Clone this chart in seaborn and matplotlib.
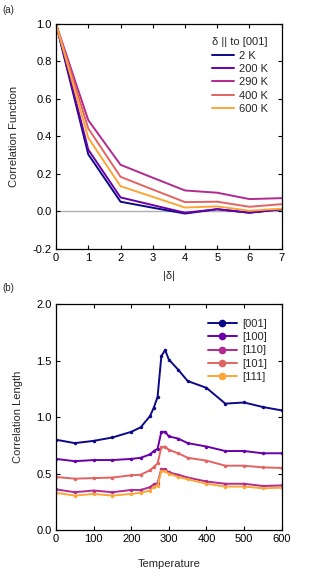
import numpy as np
import pandas as pd
import matplotlib
matplotlib.use("Agg")
import matplotlib.pyplot as plt
import seaborn as sns

# ---- Panel (a) data ----
delta = [0, 1, 2, 3, 4, 5, 6, 7]
temps_a = ["2 K", "200 K", "290 K", "400 K", "600 K"]
corr_2K = [1.0, 0.305, 0.052, 0.020, -0.011, 0.012, -0.007, 0.012]
corr_200K = [1.0, 0.330, 0.075, 0.034, -0.007, 0.012, -0.006, 0.012]
corr_290K = [1.0, 0.487, 0.249, 0.180, 0.112, 0.100, 0.066, 0.071]
corr_400K = [1.0, 0.443, 0.185, 0.117, 0.050, 0.052, 0.025, 0.039]
corr_600K = [1.0, 0.393, 0.135, 0.078, 0.021, 0.027, 0.004, 0.015]

# ---- Panel (b) data ----
temperature = [0, 50, 100, 150, 200, 225, 250, 260, 270, 280, 290, 300, 325, 350, 400, 450, 500, 550, 600]
dirs = ["[001]", "[100]", "[110]", "[101]", "[111]"]
len_001 = [0.80, 0.77, 0.79, 0.82, 0.87, 0.91, 1.01, 1.085, 1.18, 1.54, 1.595, 1.51, 1.42, 1.32, 1.26, 1.12, 1.13, 1.09, 1.06]
len_100 = [0.63, 0.61, 0.62, 0.62, 0.63, 0.64, 0.67, 0.70, 0.72, 0.87, 0.87, 0.83, 0.81, 0.77, 0.74, 0.70, 0.70, 0.68, 0.68]
len_110 = [0.36, 0.335, 0.35, 0.335, 0.355, 0.355, 0.38, 0.405, 0.415, 0.54, 0.54, 0.51, 0.49, 0.465, 0.43, 0.41, 0.41, 0.39, 0.395]
len_101 = [0.47, 0.455, 0.46, 0.465, 0.485, 0.49, 0.53, 0.56, 0.59, 0.735, 0.74, 0.71, 0.68, 0.64, 0.615, 0.57, 0.57, 0.555, 0.55]
len_111 = [0.33, 0.305, 0.32, 0.305, 0.32, 0.33, 0.35, 0.385, 0.39, 0.525, 0.52, 0.50, 0.47, 0.45, 0.41, 0.385, 0.385, 0.37, 0.375]

colors = ["#0d0887", "#6a00a8", "#b12a90", "#e16462", "#fca636"]

df_a = pd.DataFrame({
    "delta": delta * 5,
    "corr": corr_2K + corr_200K + corr_290K + corr_400K + corr_600K,
    "T": sum([[t] * len(delta) for t in temps_a], []),
})
df_b = pd.DataFrame({
    "T": temperature * 5,
    "L": len_001 + len_100 + len_110 + len_101 + len_111,
    "dir": sum([[d] * len(temperature) for d in dirs], []),
})

sns.set_theme(style="ticks")
plt.rcParams["font.family"] = ["Liberation Sans", "DejaVu Sans"]
FS = 8
plt.rcParams["font.size"] = FS

fig = plt.figure(figsize=(3.13, 5.79), dpi=100)
ax1 = fig.add_axes([0.179, 0.570, 0.721, 0.3886])
ax2 = fig.add_axes([0.179, 0.0846, 0.721, 0.3898])

# Panel a
ax1.axhline(0, color="#b0b0b0", lw=1.0, zorder=0)
sns.lineplot(data=df_a, x="delta", y="corr", hue="T", hue_order=temps_a,
             palette=colors, lw=1.4, ax=ax1)
ax1.set_xlim(0, 7)
ax1.set_ylim(-0.2, 1.0)
ax1.set_xticks(range(0, 8))
ax1.set_yticks([-0.2, 0.0, 0.2, 0.4, 0.6, 0.8, 1.0])
ax1.set_yticklabels(["-0.2", "0.0", "0.2", "0.4", "0.6", "0.8", "1.0"])
ax1.set_xlabel("|δ|", fontsize=FS, labelpad=6)
ax1.set_ylabel("Correlation Function", fontsize=FS, labelpad=10)
leg1 = ax1.legend(title="δ || to [001]", frameon=False, loc="upper right",
                  fontsize=FS, title_fontsize=FS, handlelength=2.0,
                  handletextpad=0.5, labelspacing=0.3, borderaxespad=0.8)
leg1._legend_box.align = "left"

# Panel b
sns.lineplot(data=df_b, x="T", y="L", hue="dir", hue_order=dirs,
             palette=colors, lw=1.4, marker="o", markersize=2.5,
             markeredgewidth=0, ax=ax2)
ax2.set_xlim(0, 600)
ax2.set_ylim(0, 2.0)
ax2.set_xticks([0, 100, 200, 300, 400, 500, 600])
ax2.set_yticks([0.0, 0.5, 1.0, 1.5, 2.0])
ax2.set_yticklabels(["0.0", "0.5", "1.0", "1.5", "2.0"])
ax2.set_xlabel("Temperature", fontsize=FS, labelpad=11)
ax2.set_ylabel("Correlation Length", fontsize=FS, labelpad=10)
leg2 = ax2.legend(frameon=False, loc="upper right", fontsize=FS,
                  handlelength=2.6, handletextpad=0.5, labelspacing=0.3,
                  borderaxespad=0.9, markerscale=2.2)

for ax in (ax1, ax2):
    for s in ax.spines.values():
        s.set_visible(True)
        s.set_color("black")
        s.set_linewidth(0.9)
    ax.tick_params(direction="in", length=3, width=0.8, top=True, right=True,
                   labelsize=FS, colors="black", pad=3)

fig.text(0.006, 0.982, "(a)", fontsize=7, ha="left", va="center")
fig.text(0.006, 0.503, "(b)", fontsize=7, ha="left", va="center")

fig.savefig("out.png", dpi=100)
